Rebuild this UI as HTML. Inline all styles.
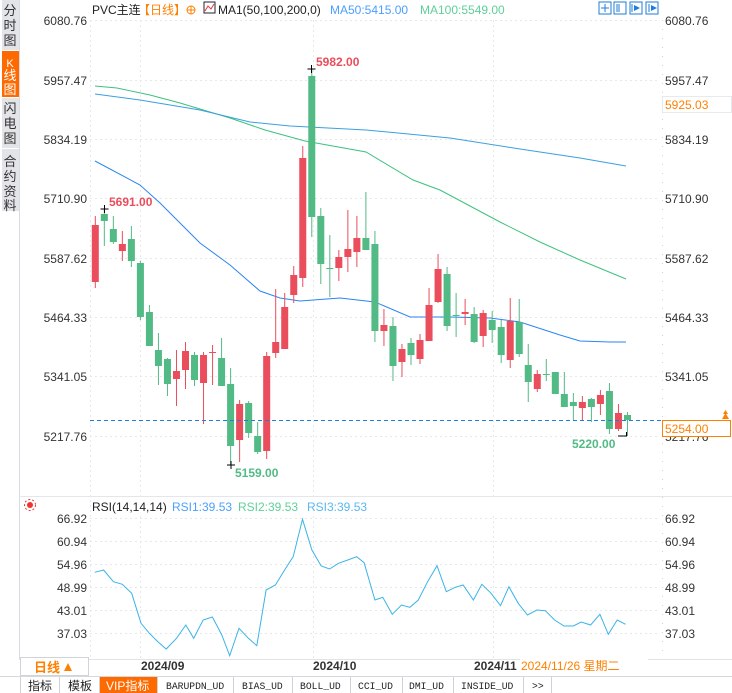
<!DOCTYPE html>
<html><head><meta charset="utf-8"><style>
html,body{margin:0;padding:0;background:#fff;width:732px;height:693px;overflow:hidden;font-family:"Liberation Sans","Noto Sans CJK SC",sans-serif}
svg text{font-family:"Liberation Sans","Noto Sans CJK SC",sans-serif}
svg text.m{font-family:"Liberation Mono",monospace}
</style></head><body>
<svg id="s" width="732" height="693" xmlns="http://www.w3.org/2000/svg">
<rect x="0" y="0" width="732" height="693" fill="#fff"/>
<rect x="2" y="0" width="17" height="50" fill="#e3e4e8"/>
<rect x="2" y="51" width="17" height="46" fill="#ff6a00"/>
<rect x="2" y="98" width="17" height="50" fill="#e3e4e8"/>
<rect x="2" y="149" width="17" height="62" fill="#e3e4e8"/>
<line x1="19.5" y1="0" x2="19.5" y2="660" stroke="#d8dbe0"/>
<g font-size="13" fill="#333" text-anchor="middle">
<text x="10" y="15">分</text><text x="10" y="30">时</text><text x="10" y="45">图</text>
<text x="10" y="67" fill="#fff" font-size="11">K</text><text x="10" y="80" fill="#fff">线</text><text x="10" y="94" fill="#fff">图</text>
<text x="10" y="113">闪</text><text x="10" y="128">电</text><text x="10" y="143">图</text>
<text x="10" y="166">合</text><text x="10" y="181">约</text><text x="10" y="196">资</text><text x="10" y="210">料</text>
</g>
<g id="grid"></g>
<g id="main"></g>
<text x="92" y="14" font-size="12" fill="#222">PVC主连</text>
<text x="138" y="14" font-size="12" fill="#ff8000">【日线】</text>
<circle cx="191" cy="10" r="4" fill="none" stroke="#ff8000"/><line x1="187" y1="10" x2="195" y2="10" stroke="#ff8000"/><line x1="191" y1="6" x2="191" y2="14" stroke="#ff8000"/>
<rect x="204" y="2" width="11" height="11" fill="#fff" stroke="#223"/><polyline points="205,11 208,6 211,9 214,4" fill="none" stroke="#e33"/>
<text x="218" y="14" font-size="12" fill="#222">MA1(50,100,200,0)</text>
<text x="330" y="14" font-size="12" fill="#4a9fff">MA50:5415.00</text>
<text x="420" y="14" font-size="12" fill="#5fcf9a">MA100:5549.00</text>
<g fill="none" stroke="#1f7ed8">
<rect x="599" y="2" width="12" height="12"/><rect x="614" y="2" width="12" height="12"/><rect x="630" y="2" width="12" height="12"/><rect x="646" y="2" width="12" height="12"/>
</g>
<g stroke="#1f7ed8"><line x1="601" y1="8" x2="609" y2="8"/><line x1="605" y1="4" x2="605" y2="12"/><line x1="617" y1="4" x2="617" y2="12"/><line x1="619" y1="4" x2="619" y2="12"/><line x1="632" y1="4" x2="632" y2="12"/><line x1="649" y1="4" x2="649" y2="12"/></g>
<polygon points="634,5 640,8 634,11" fill="#1f7ed8"/><polygon points="651,5 657,8 651,11" fill="#1f7ed8"/>
<circle cx="30" cy="505" r="3" fill="#e33"/><circle cx="30" cy="505" r="5.5" fill="none" stroke="#e33" stroke-dasharray="2 2"/>
<text x="92" y="511" font-size="12" fill="#222">RSI(14,14,14)</text>
<text x="172" y="511" font-size="12" fill="#4a9fff">RSI1:39.53</text>
<text x="238" y="511" font-size="12" fill="#5fcf9a">RSI2:39.53</text>
<text x="307" y="511" font-size="12" fill="#59b8f0">RSI3:39.53</text>
<line x1="19" y1="659.5" x2="732" y2="659.5" stroke="#e0e3e8"/>
<rect x="20.5" y="657.5" width="68" height="18" fill="#fff" stroke="#cfd4db"/>
<text x="34" y="672" font-size="13" font-weight="bold" fill="#ff8000">日线</text>
<polygon points="64,671 72,671 68,663" fill="#ff8000"/>
<g font-size="12" font-weight="bold" fill="#333"><text x="141" y="670">2024/09</text><text x="313" y="670">2024/10</text><text x="474" y="670">2024/11</text></g>
<rect x="520" y="657" width="128" height="18" fill="#fff"/>
<text x="521" y="670" font-size="12" fill="#ff8000">2024/11/26 星期二</text>
<rect x="0" y="676" width="732" height="17" fill="#fff"/>
<line x1="0" y1="676.5" x2="732" y2="676.5" stroke="#d5d8dd"/>
<rect x="99" y="677" width="58" height="16" fill="#ff6a00"/>
<g font-size="12" fill="#222">
<text x="28" y="690">指标</text><text x="68" y="690">模板</text>
</g>
<text x="106" y="690" font-size="12" fill="#fff">VIP指标</text>
<g font-size="9.7" fill="#222">
<text class="m" x="166" y="689">BARUPDN_UD</text>
<text class="m" x="242" y="689">BIAS_UD</text>
<text class="m" x="300" y="689">BOLL_UD</text>
<text class="m" x="358" y="689">CCI_UD</text>
<text class="m" x="409" y="689">DMI_UD</text>
<text class="m" x="461" y="689">INSIDE_UD</text>
<text class="m" x="532" y="689">&gt;&gt;</text>
</g>
<g id="tabsep"></g>
</svg>
<script>
var S=document.getElementById('s'),NS='http://www.w3.org/2000/svg';
function el(t,a,p,txt){var e=document.createElementNS(NS,t);for(var k in a)e.setAttribute(k,a[k]);if(txt!==undefined)e.textContent=txt;(p||document.getElementById('main')).appendChild(e);return e;}
var G=document.getElementById('grid');
var pl=[[20,'6080.76'],[80,'5957.47'],[139,'5834.19'],[198,'5710.90'],[258,'5587.62'],[317,'5464.33'],[376,'5341.05'],[436,'5217.76']];
pl.forEach(function(p){el('line',{x1:90,y1:p[0]+0.5,x2:660,y2:p[0]+0.5,stroke:'#e6e8ec','stroke-dasharray':'2 3'},G);
el('text',{x:87,y:p[0]+5,'font-size':12,fill:'#333','text-anchor':'end'},G,p[1]);
el('text',{x:665,y:p[0]+5,'font-size':12,fill:'#333'},G,p[1]);});
var rl=[[518,'66.92'],[541,'60.94'],[564,'54.96'],[587,'48.99'],[610,'43.01'],[633,'37.03']];
rl.forEach(function(p){el('line',{x1:90,y1:p[0]+0.5,x2:660,y2:p[0]+0.5,stroke:'#e6e8ec','stroke-dasharray':'2 3'},G);
el('text',{x:87,y:p[0]+5,'font-size':12,fill:'#333','text-anchor':'end'},G,p[1]);
el('text',{x:665,y:p[0]+5,'font-size':12,fill:'#333'},G,p[1]);});
[140,313,493].forEach(function(x){el('line',{x1:x+.5,y1:20,x2:x+.5,y2:496,stroke:'#e6e8ec','stroke-dasharray':'2 3'},G);el('line',{x1:x+.5,y1:516,x2:x+.5,y2:660,stroke:'#e6e8ec','stroke-dasharray':'2 3'},G);});
el('line',{x1:90.5,y1:20,x2:90.5,y2:660,stroke:'#e6e8ec','stroke-dasharray':'2 3'},G);
el('line',{x1:662.5,y1:20,x2:662.5,y2:660,stroke:'#d0d4da','stroke-dasharray':'1 8'},G);
el('line',{x1:19,y1:496.5,x2:732,y2:496.5,stroke:'#e3e6ea'},G);
function pl2(pts,c){el('polyline',{points:pts.map(function(p){return p.join(',')}).join(' '),fill:'none',stroke:c,'stroke-width':1});}
pl2([[95,86],[117,88],[150,95],[180,103],[230,118],[265,130],[305,141],[366,152],[413,180],[440,190],[470,206],[500,222],[540,242],[580,260],[626,279]],'#3cc27f');
pl2([[95,94],[140,100],[200,110],[250,122],[290,126],[366,130],[450,138],[520,149],[580,158],[626,166]],'#3aa0e0');
pl2([[95,161],[140,185],[160,203],[200,243],[230,265],[260,291],[280,298],[300,301],[340,298],[375,302],[410,317],[450,317],[490,318],[520,322],[560,335],[580,341],[610,342],[626,342]],'#2a86f0');
var C=[[225,282,216,288,1],[214,221,209,246,0],[229,242,216,244,0],[244,251,231,261,1],[239,261,226,267,0],[263,317,261,320,0],[312,346,305,346,0],[350,366,333,385,0],[359,384,358,396,0],[371,379,350,406,1],
[351,370,342,389,1],[355,380,352,386,0],[355,383,352,424,1],[352,353,345,385,1],[358,386,338,386,0],[384,446,368,465,0],[404,440,400,462,1],[403,433,401,438,0],[436,452,422,454,0],[356,451,352,459,1],
[342,353,289,358,1],[307,349,293,349,1],[275,295,266,303,1],[158,278,146,287,1],[76,217,68,237,0],[216,264,208,284,0],[268,269,235,297,0],[257,268,250,281,1],[249,257,210,272,1],[238,252,216,267,1],
[238,250,192,250,0],[244,331,231,342,0],[325,331,309,346,1],[326,366,317,381,0],[349,362,344,377,1],[343,355,338,365,0],[340,359,334,364,1],[305,341,288,341,1],[269,302,254,303,1],[274,326,267,331,0],
[315,316,293,337,0],[312,314,299,325,1],[314,342,307,343,0],[313,336,310,347,1],[320,330,311,343,0],[327,355,320,363,0],[321,360,298,368,1],[322,354,299,357,0],[365,382,344,402,0],[374,389,370,392,1],
[374,375,359,381,0],[372,394,372,394,0],[394,407,372,407,0],[402,406,393,420,0],[402,408,396,420,1],[399,407,398,422,0],[395,404,390,415,1],[391,429,383,434,0],[413,429,404,431,1],[415,420,412,436,0]];
C.forEach(function(c,i){var x=95.3+i*9.02,col=c[4]?'#ea4d5c':'#52ba84';
el('line',{x1:x,y1:c[2],x2:x,y2:c[3],stroke:col,'stroke-width':1});
el('rect',{x:x-3.5,y:c[0],width:7,height:Math.max(1,c[1]-c[0]),fill:col});});
el('line',{x1:90,y1:420.5,x2:662,y2:420.5,stroke:'#1f7ed8','stroke-dasharray':'4 3'});
function cross(x,y){el('line',{x1:x-4,y1:y,x2:x+4,y2:y,stroke:'#000'});el('line',{x1:x,y1:y-4,x2:x,y2:y+4,stroke:'#000'});}
cross(104.5,209);el('text',{x:109,y:206,'font-size':12,'font-weight':'bold',fill:'#ea4d5c'},null,'5691.00');
cross(311.5,69);el('text',{x:316,y:66,'font-size':12,'font-weight':'bold',fill:'#ea4d5c'},null,'5982.00');
cross(231,465);el('text',{x:235,y:477,'font-size':12,'font-weight':'bold',fill:'#52ba84'},null,'5159.00');
el('line',{x1:618,y1:436,x2:627,y2:436,stroke:'#000'});el('line',{x1:626.5,y1:432,x2:626.5,y2:436,stroke:'#000'});
el('text',{x:572,y:448,'font-size':12,'font-weight':'bold',fill:'#52ba84'},null,'5220.00');
el('rect',{x:662.5,y:96.5,width:69,height:16,fill:'#fff',stroke:'#e6eaee'});
el('text',{x:665,y:109,'font-size':12,fill:'#ff8000'},null,'5925.03');
el('rect',{x:662.5,y:420.5,width:68,height:16,fill:'#fff',stroke:'#ff8000'});
el('text',{x:665,y:433,'font-size':12,fill:'#ff8000'},null,'5254.00');
el('polygon',{points:'722,419 729,419 725.5,413',fill:'#ff8000'});el('polygon',{points:'723,414 728,414 725.5,410',fill:'#ff8000'});
var R=[[203,247],[222,240],[243,275],[262,283],[282,310],[302,400],[320,430],[338,455],[356,477],[378,445],[398,405],[415,445],[435,390],[455,381],[475,435],[492,497],[512,415],[532,445],[550,467],[570,300],[590,285],[612,235],[628,200],[648,88],[668,180],[688,228],[706,237],[725,220],[745,210],[764,200],[780,218],[803,330],[820,322],[840,373],[860,345],[878,352],[896,330],[916,275],[936,227],[956,305],[975,292],[992,285],[1014,330],[1032,283],[1052,310],[1072,347],[1090,290],[1110,340],[1130,375],[1150,360],[1168,362],[1188,390],[1208,408],[1228,408],[1245,396],[1265,405],[1285,373],[1303,433],[1322,390],[1340,403]];
pl2(R.map(function(p){return [(p[0]/2.142).toFixed(1),(490+p[1]/3).toFixed(1)]}),'#3ab4e8');
var TS=document.getElementById('tabsep');
[20,59,99,157,233,292,350,402,453,523,551].forEach(function(x){el('line',{x1:x+.5,y1:677,x2:x+.5,y2:693,stroke:'#cfd3d8'},TS);});
</script>
</body></html>
